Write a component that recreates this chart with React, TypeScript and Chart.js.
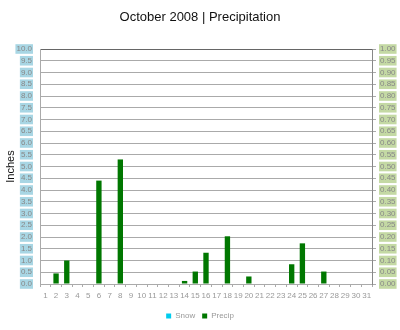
import React, { useEffect, useRef } from "react";
import { Chart, registerables } from "chart.js";

Chart.register(...registerables);

const days: string[] = Array.from({ length: 31 }, (_, i) => String(i + 1));
const precip: number[] = [
  0, 0.45, 1.0, 0, 0, 4.4, 0, 5.3, 0, 0,
  0, 0, 0, 0.13, 0.53, 1.33, 0, 2.03, 0, 0.32,
  0, 0, 0, 0.84, 1.73, 0, 0.53, 0, 0, 0, 0,
];
const snow: number[] = new Array(31).fill(0);

export default function App() {
  const ref = useRef<HTMLCanvasElement | null>(null);
  useEffect(() => {
    document.body.style.margin = "0";
    const chart = new Chart(ref.current!, {
      type: "bar",
      data: {
        labels: days,
        datasets: [
          { label: "Snow", data: snow, backgroundColor: "#00ccee", borderWidth: 0, yAxisID: "y" },
          { label: "Precip", data: precip, backgroundColor: "#007700", borderWidth: 0, yAxisID: "y" },
        ],
      },
      options: {
        animation: false,
        responsive: false,
        maintainAspectRatio: false,
        layout: { padding: { left: 0, right: 0, top: 0, bottom: 0 } },
        datasets: { bar: { barPercentage: 0.5, categoryPercentage: 1, grouped: false } } as any,
        plugins: {
          title: {
            display: true,
            text: "October 2008 | Precipitation",
            color: "#111",
            font: { family: "Liberation Sans, Arial, sans-serif", size: 13, weight: "normal" },
            padding: { top: 10, bottom: 23.4 },
          },
          legend: {
            position: "bottom",
            labels: {
              boxWidth: 5,
              boxHeight: 5,
              padding: 7,
              color: "#999",
              font: { family: "Liberation Sans, Arial, sans-serif", size: 8 },
            },
          },
          tooltip: { enabled: false },
        },
        scales: {
          x: {
            stacked: true,
            grid: { drawOnChartArea: false, offset: true, tickLength: 3, color: "#aaa" },
            border: { color: "#aaa" },
            ticks: {
              color: "#999",
              padding: 4,
              maxRotation: 0,
              autoSkip: false,
              font: { family: "Liberation Sans, Arial, sans-serif", size: 8 },
            },
            afterFit: (s: any) => { s.height = 21; },
          },
          y: {
            position: "left",
            min: 0,
            max: 10,
            grid: {
              drawTicks: false,
              color: (c: any) => (c.tick && c.tick.value === 10 ? "#666" : "#aaa"),
            },
            border: { color: "#aaa" },
            title: {
              display: true,
              text: "Inches",
              color: "#111",
              font: { family: "Liberation Sans, Arial, sans-serif", size: 11 },
              padding: { top: 4, bottom: 0 },
            },
            ticks: {
              stepSize: 0.5,
              autoSkip: false,
              padding: 8,
              color: "#888",
              font: { family: "Liberation Sans, Arial, sans-serif", size: 8 },
              callback: (v: any) => Number(v).toFixed(1),
              showLabelBackdrop: true,
              backdropColor: "#a8d6e4",
              backdropPadding: { top: 0, bottom: 0, left: 1, right: 1 },
            } as any,
            afterFit: (s: any) => { s.width = 40; },
          },
          y2: {
            position: "right",
            min: 0,
            max: 1,
            grid: { drawOnChartArea: false, tickLength: 4, color: "#aaa" },
            border: { color: "#888" },
            ticks: {
              stepSize: 0.05,
              autoSkip: false,
              padding: 4,
              color: "#888",
              font: { family: "Liberation Sans, Arial, sans-serif", size: 8 },
              callback: (v: any) => Number(v).toFixed(2),
              showLabelBackdrop: true,
              backdropColor: "#c4d9a4",
              backdropPadding: { top: 0, bottom: 0, left: 1, right: 1 },
            } as any,
            afterFit: (s: any) => { s.width = 28; },
          },
        },
      },
    });
    return () => chart.destroy();
  }, []);
  return (
    <div style={{ position: "fixed", left: 0, top: 0, width: 400, height: 330, background: "#fff" }}>
      <canvas ref={ref} width={400} height={330} style={{ width: 400, height: 330 }} />
    </div>
  );
}
